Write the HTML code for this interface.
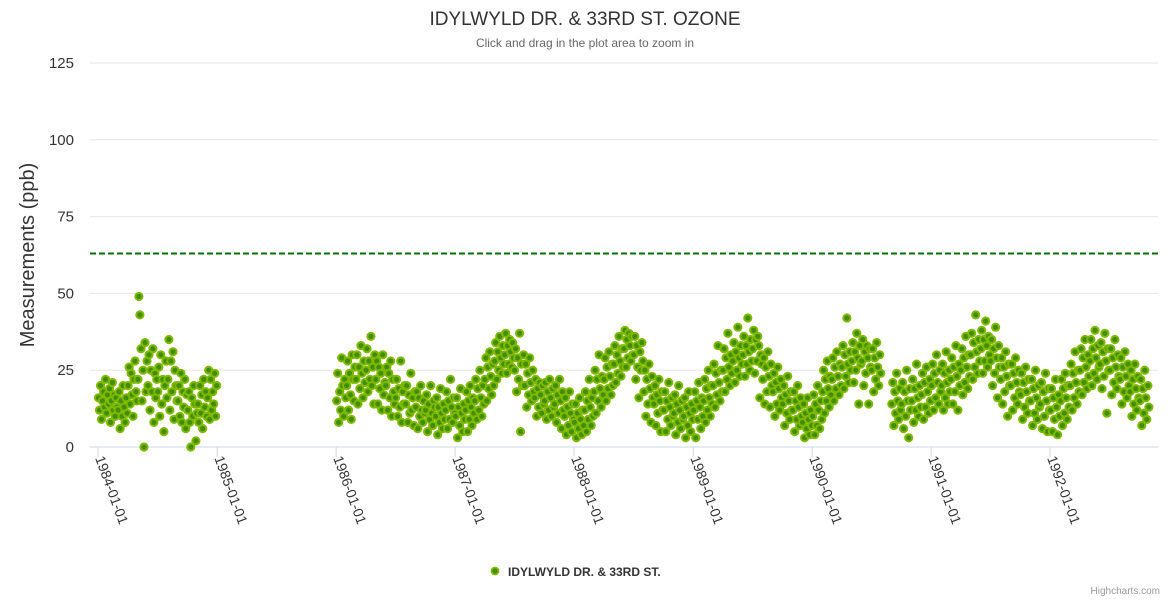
<!DOCTYPE html>
<html><head><meta charset="utf-8"><style>
body{margin:0;background:#fff;font-family:"Liberation Sans",sans-serif}
svg{display:block}
</style></head><body>
<svg id="c" width="1170" height="600">
<rect width="1170" height="600" fill="#fff"/>
<text x="585" y="25" text-anchor="middle" font-size="19" fill="#333">IDYLWYLD DR. &amp; 33RD ST. OZONE</text>
<text x="585" y="47" text-anchor="middle" font-size="12" fill="#666">Click and drag in the plot area to zoom in</text>
<text transform="translate(34,255) rotate(-90)" text-anchor="middle" font-size="20" fill="#333">Measurements (ppb)</text>
<g id="grid"></g><g id="xax"></g><g id="pts"></g><g id="plotline"></g>
<g>
<circle cx="495" cy="571" r="3.5" fill="#3f8f00" stroke="#80b800" stroke-width="1.8"/>
<text x="508" y="576" font-size="12" font-weight="bold" fill="#333">IDYLWYLD DR. &amp; 33RD ST.</text>
</g>
<text x="1160" y="594" text-anchor="end" font-size="10" fill="#999">Highcharts.com</text>
</svg>
<script>
const yTicks=[0,25,50,75,100,125];
const xTickLabels=["1984-01-01","1985-01-01","1986-01-01","1987-01-01","1988-01-01","1989-01-01","1990-01-01","1991-01-01","1992-01-01"];
const standardLevel=63;
const months=["1984-01","1984-02","1984-03","1984-04","1984-05","1984-06","1984-07","1984-08","1984-09","1984-10","1984-11","1984-12",
"1986-01","1986-02","1986-03","1986-04","1986-05","1986-06","1986-07","1986-08","1986-09","1986-10","1986-11","1986-12",
"1987-01","1987-02","1987-03","1987-04","1987-05","1987-06","1987-07","1987-08","1987-09","1987-10","1987-11","1987-12",
"1988-01","1988-02","1988-03","1988-04","1988-05","1988-06","1988-07","1988-08","1988-09","1988-10","1988-11","1988-12",
"1989-01","1989-02","1989-03","1989-04","1989-05","1989-06","1989-07","1989-08","1989-09","1989-10","1989-11","1989-12",
"1990-01","1990-02","1990-03","1990-04","1990-05","1990-06","1990-07","1990-09","1990-10","1990-11","1990-12",
"1991-01","1991-02","1991-03","1991-04","1991-05","1991-06","1991-07","1991-08","1991-09","1991-10","1991-11","1991-12",
"1992-01","1992-02","1992-03","1992-04","1992-05","1992-06","1992-07","1992-08","1992-09","1992-10"];
const monthValues=[
[16,12,20,9,15,18,13,22,11,17],[14,19,8,15,21,12,17,10,16,13],[12,18,6,15,10,20,13,8,16,11],
[20,26,14,24,17,10,22,28,18,15],[22,49,43,32,15,25,0,34,18,28],[20,30,12,25,18,32,8,24,16,22],
[18,26,10,30,14,22,5,20,28,16],[22,35,12,28,18,31,9,25,20,15],[15,20,10,24,8,18,13,22,6,17],
[12,18,8,0,16,10,20,14,2,11],[14,8,20,11,17,6,22,13,18,10],[16,25,9,22,12,18,14,24,10,20],
[15,24,8,18,12,29,20,10,22,16],[20,28,12,24,17,9,30,22,15,26],[22,30,14,26,19,33,24,16,28,21],
[25,32,18,28,22,36,20,26,14,30],[22,28,14,26,19,24,12,30,17,21],[20,26,12,24,16,28,10,22,18,14],
[16,22,10,19,13,28,8,18,14,20],[14,20,8,17,11,24,12,16,7,18],[13,18,6,16,10,20,12,8,15,11],
[12,17,5,14,9,20,11,7,15,13],[10,16,4,13,8,19,11,6,14,9],[12,18,6,15,9,22,13,8,16,11],
[10,16,3,13,7,19,11,5,14,9],[12,18,5,15,9,20,13,7,16,11],[15,22,9,19,12,25,16,10,20,14],
[22,29,15,26,19,31,23,17,27,20],[28,34,22,31,25,36,29,24,33,27],[30,37,24,33,27,35,31,26,34,29],
[25,32,18,29,22,37,5,27,20,30],[20,27,13,24,17,29,21,15,25,18],[16,22,10,19,13,21,17,11,20,14],
[15,21,9,18,12,22,16,10,19,13],[14,20,8,17,11,22,15,6,18,12],[10,16,4,13,7,18,11,5,14,9],
[8,14,3,11,6,16,9,4,12,7],[12,18,5,15,9,22,13,7,16,10],[18,25,11,22,15,30,19,13,23,17],
[22,29,15,26,19,31,23,17,27,20],[27,33,21,30,24,36,28,23,32,26],[32,38,26,35,29,37,33,28,36,30],
[30,36,22,33,26,16,31,25,34,28],[18,25,10,22,14,27,19,8,23,16],[14,20,7,17,11,22,15,5,18,12],
[12,18,5,15,9,21,13,7,16,10],[11,17,4,14,8,20,12,6,15,9],[10,16,3,13,7,18,11,5,14,9],
[12,18,3,15,9,21,13,6,16,10],[15,22,8,19,12,25,16,10,20,14],[20,27,13,24,17,33,21,15,25,18],
[25,32,18,29,22,37,26,20,30,24],[28,34,21,31,25,39,29,23,33,27],[30,36,23,33,27,42,31,25,35,28],
[32,38,24,35,28,36,33,16,30,27],[22,29,14,26,18,31,23,13,27,20],[18,24,10,21,14,26,19,12,22,16],
[14,20,7,17,11,23,15,9,18,12],[12,18,5,15,9,20,13,7,16,10],[8,14,3,11,6,16,9,4,12,7],
[10,17,4,14,7,20,12,6,15,9],[18,25,11,22,15,28,19,13,23,17],[22,29,15,26,19,31,23,17,27,20],
[26,33,19,30,23,42,27,21,31,25],[28,34,21,31,25,37,29,14,33,27],[28,35,20,31,24,33,29,14,32,26],
[25,32,18,29,22,34,26,20,30,24],[14,21,7,18,11,24,15,9,19,12],[14,21,6,18,10,25,15,3,19,12],
[15,22,8,19,12,27,16,10,20,13],[17,24,9,21,13,26,18,11,22,15],[20,27,12,24,16,30,21,14,25,18],
[20,27,12,24,16,31,21,14,25,18],[22,29,14,26,18,33,23,12,27,20],[25,32,17,29,21,36,26,19,30,23],
[30,37,22,34,26,43,31,24,35,28],[32,38,24,35,28,41,33,26,36,30],[28,35,20,32,24,39,29,16,33,26],
[22,29,14,26,18,31,23,10,27,20],[20,27,12,24,16,29,21,14,25,18],[17,24,9,21,13,26,18,11,22,15],
[15,22,7,19,11,25,16,9,20,13],[14,21,6,18,10,24,15,5,19,12],[12,19,5,16,9,22,13,4,17,10],
[15,22,7,19,11,24,16,9,20,13],[20,27,12,24,16,31,21,14,25,18],[25,32,17,29,21,35,26,19,30,23],
[28,35,20,32,24,38,29,22,33,26],[27,34,19,31,23,37,28,11,32,25],[25,32,17,29,21,35,26,19,30,23],
[22,29,14,26,18,31,23,16,27,20],[18,25,10,22,14,27,19,12,23,16],[15,22,7,19,11,25,16,9,20,13],
[12,19,4,16,8,22,13,3,17,10]];

const NS="http://www.w3.org/2000/svg";
const L=90,R=1158,T=63,B=447,YMAX=125;
const t0=Date.UTC(1984,0,1),x0=98,pxPerDay=119/365.25;
function xs(ms){return x0+(ms-t0)/86400000*pxPerDay;}
function ys(v){return B-(v/YMAX)*(B-T);}
function mk(tag,attrs,parent){const e=document.createElementNS(NS,tag);for(const k in attrs)e.setAttribute(k,attrs[k]);parent.appendChild(e);return e;}
const grid=document.getElementById('grid');
yTicks.forEach(v=>{
 const l=mk('line',{x1:L,x2:R,y1:ys(v),y2:ys(v),stroke:v===0?'#ccd6eb':'#e6e6e6','stroke-width':1},grid);
 
 
 const t=mk('text',{x:74,y:ys(v)+5,'text-anchor':'end','font-size':15,fill:'#333'},grid);
 t.textContent=v;
 
 
});
const xax=document.getElementById('xax');
xTickLabels.forEach(s=>{
 const p=s.split('-');const x=xs(Date.UTC(+p[0],+p[1]-1,+p[2]));
 const tk=mk('line',{x1:x,x2:x,y1:B,y2:B+10,stroke:'#ccd6eb'},xax);
 
 
 const t=mk('text',{transform:`translate(${x-3},${B+11}) rotate(70)`,'font-size':14,fill:'#333'},xax);
 t.textContent=s;
 
 
});
const pts=document.getElementById('pts');
months.forEach((m,i)=>{
 const [yy,mm]=m.split('-').map(Number);
 const a=Date.UTC(yy,mm-1,1),b=Date.UTC(yy,mm,1);
 const vals=monthValues[i];
 vals.forEach((v,j)=>{
  const t=a+(b-a)*(j+0.5)/vals.length;
  const c=mk('circle',{cx:xs(t).toFixed(1),cy:ys(v).toFixed(1),r:3.6,fill:'#3f8f00',stroke:'#80b800','stroke-width':2},pts);
  
  
 });
});
const pl=mk('line',{x1:L,x2:R,y1:ys(standardLevel),y2:ys(standardLevel),stroke:'#007000','stroke-width':2,'stroke-dasharray':'6,3'},document.getElementById('plotline'));


</script>
</body></html>
